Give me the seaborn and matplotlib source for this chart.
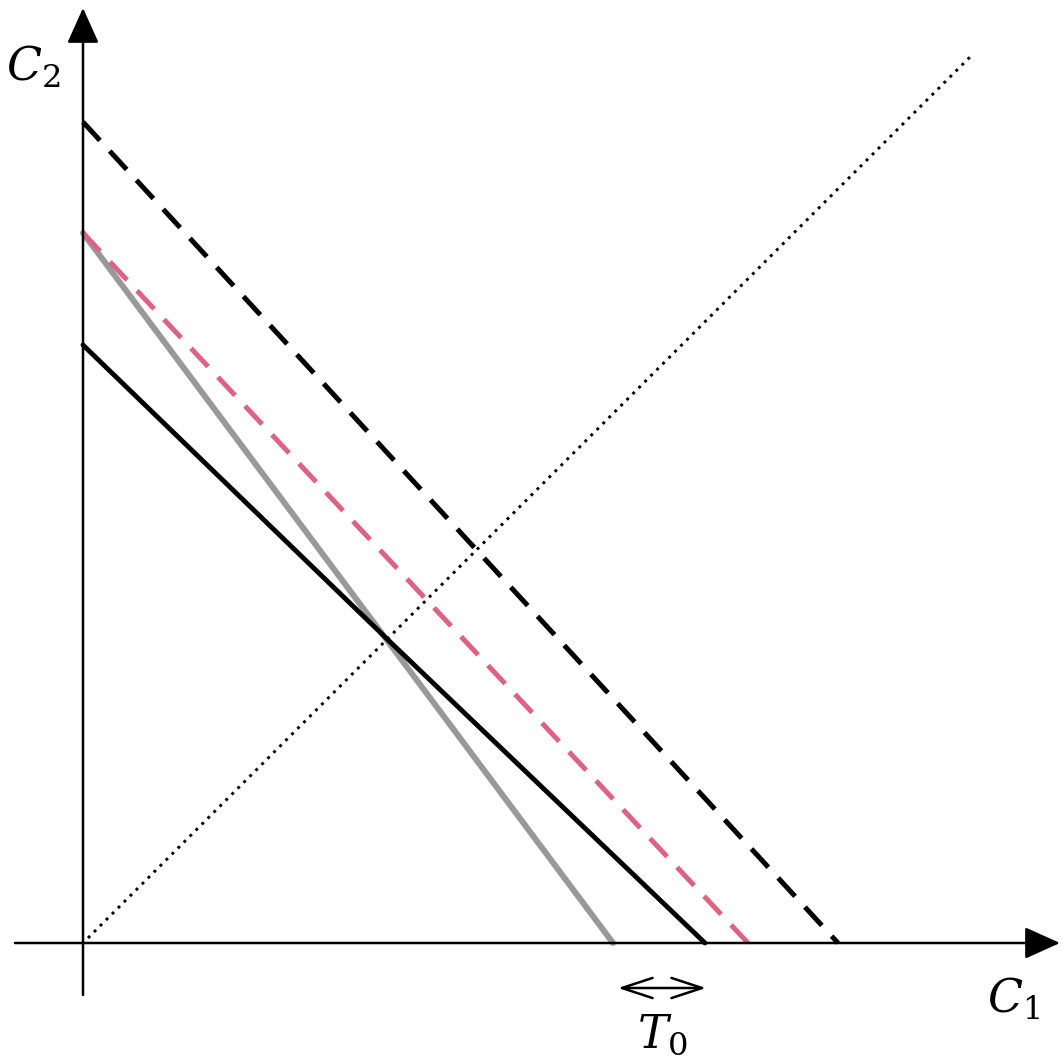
import numpy as np
import pandas as pd
import matplotlib
matplotlib.use('Agg')
import matplotlib.pyplot as plt
import seaborn as sns

# ─────────────────────────────────────────────────────────────
# DATA — line end points (axis units)
# ─────────────────────────────────────────────────────────────
dashed_black_x = [0.0, 7.55]
dashed_black_y = [8.21, 0.0]

dashed_pink_x = [0.0, 6.65]
dashed_pink_y = [7.10, 0.0]

gray_x = [0.0, 5.30]
gray_y = [7.10, 0.0]

curve_x = [0.0, 3.02, 6.22]
curve_y = [5.98, 3.06, 0.0]

diag_x = [0.05, 8.89]
diag_y = [0.05, 8.88]

t0_range = [5.35, 6.23]

sns.set_style("white")
plt.rcParams['mathtext.fontset'] = 'dejavuserif'

fig = plt.figure(figsize=(10.63, 10.63), dpi=100)
ax = fig.add_axes([0, 0, 1, 1])
ax.set_xlim(-0.83, 9.80)
ax.set_ylim(-1.20, 9.43)
ax.axis('off')

# diagonal (dotted)
sns.lineplot(x=diag_x, y=diag_y, ax=ax, color='black', lw=2.1,
             linestyle=(0, (1, 1.9)), sort=False)

# gray solid line
sns.lineplot(x=gray_x, y=gray_y, ax=ax, color='#999999', lw=4.3, sort=False)

# black solid curve
sns.lineplot(x=curve_x, y=curve_y, ax=ax, color='black', lw=3.5, sort=False)

# pink dashed
sns.lineplot(x=dashed_pink_x, y=dashed_pink_y, ax=ax, color='#DE6282',
             lw=3.6, linestyle=(0, (5, 2.9)), sort=False)

# black dashed
sns.lineplot(x=dashed_black_x, y=dashed_black_y, ax=ax, color='black',
             lw=3.6, linestyle=(0, (5, 2.9)), sort=False)

# axes with arrows
head = '-|>,head_length=1.0,head_width=0.45'
ax.annotate('', xy=(0, 9.35), xytext=(0, -0.52),
            arrowprops=dict(arrowstyle=head, mutation_scale=22,
                            lw=1.8, color='black', shrinkA=0, shrinkB=0))
ax.annotate('', xy=(9.77, 0), xytext=(-0.68, 0),
            arrowprops=dict(arrowstyle=head, mutation_scale=22,
                            lw=1.8, color='black', shrinkA=0, shrinkB=0))

# T0 double arrow
ax.annotate('', xy=(t0_range[1], -0.45), xytext=(t0_range[0], -0.45),
            arrowprops=dict(arrowstyle='<->,head_length=1.0,head_width=0.33',
                            mutation_scale=22, lw=1.8, color='black',
                            shrinkA=0, shrinkB=0))

ax.text(5.79, -0.92, r'$T_0$', fontsize=33, ha='center', va='center', color='black')
ax.text(-0.50, 8.75, r'$C_2$', fontsize=33, ha='center', va='center', color='black')
ax.text(9.30, -0.57, r'$C_1$', fontsize=33, ha='center', va='center', color='black')

plt.savefig("out.png", dpi=100)
plt.close()
